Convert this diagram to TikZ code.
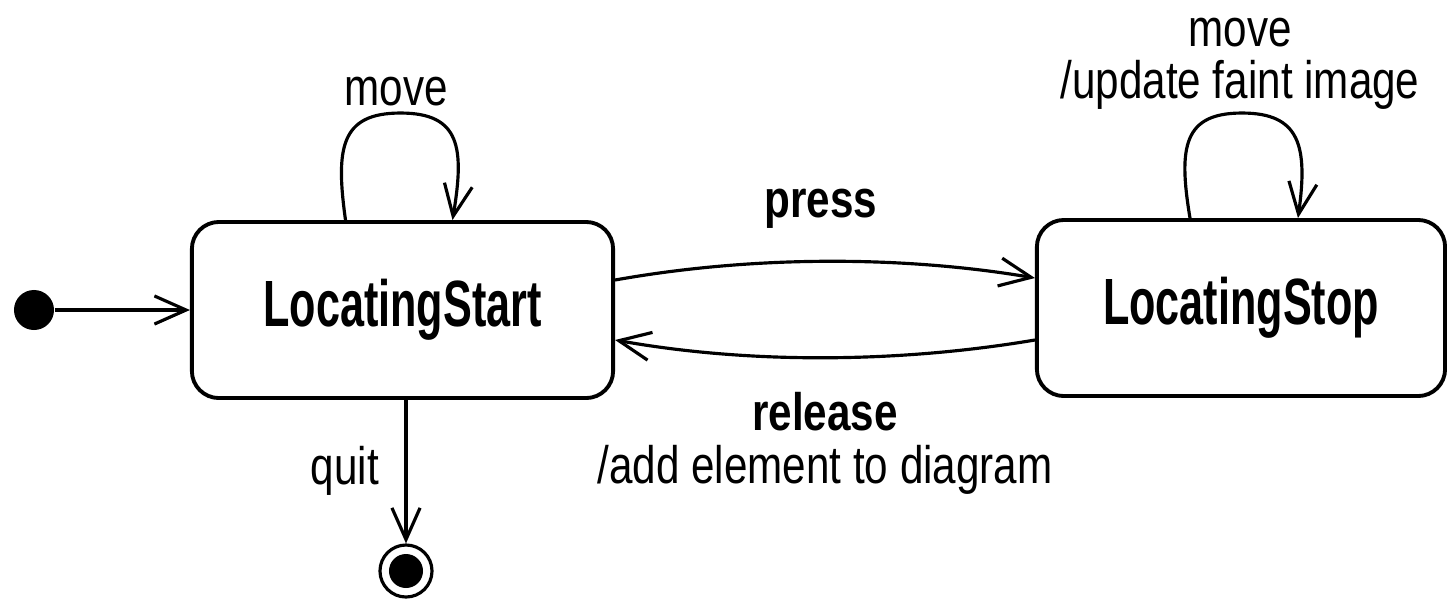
\documentclass[tikz,border=0pt]{standalone}
\usepackage{fontspec}
\setmainfont{Liberation Sans}
\newfontfamily\lblfont[FakeStretch=0.8]{Liberation Sans}
\newfontfamily\stfont[FakeStretch=0.66]{Liberation Sans}
\usetikzlibrary{arrows.meta,calc}
\begin{document}
\begin{tikzpicture}[x=0.01cm,y=-0.01cm,
  state/.style={draw,line width=1.1pt,rounded corners=0.27cm,inner sep=0pt,
    font=\stfont\bfseries\fontsize{18.6}{22}\selectfont},
  lbl/.style={inner sep=0pt,font=\lblfont\fontsize{15}{15}\selectfont,align=center},
  lblb/.style={lbl,font=\lblfont\bfseries\fontsize{15}{15}\selectfont},
  tr/.style={line width=0.9pt,-{Straight Barb[length=9pt,width=8pt]}}]
\useasboundingbox (0,0) rectangle (1447,602);
% states
\node[state,minimum width=4.21cm,minimum height=1.76cm] (ls) at (402.5,310) {LocatingStart};
\node[state,minimum width=4.08cm,minimum height=1.76cm] (lp) at (1241,308) {LocatingStop};
\node[circle,fill,inner sep=0pt,minimum size=0.4cm] (init) at (34,310) {};
\node[circle,draw,line width=0.9pt,inner sep=0pt,minimum size=0.52cm,
  path picture={\fill (path picture bounding box.center) circle (0.17cm);}] (final) at (406,571) {};
% transitions
\draw[tr] (init) -- (ls.west);
\draw[tr] ($(ls.east)+(0,-30)$) .. controls +(140,-25) and +(-130,-22) .. ($(lp.west)+(0,-30)$);
\draw[tr] ($(lp.west)+(0,32)$) .. controls +(-130,22) and +(140,25) .. ($(ls.east)+(0,30)$);
\draw[tr] (ls.south -| final) -- (final);
\draw[tr] ($(ls.north)+(-57,0)$) .. controls +(-10,-72) and +(-60,0) .. ($(ls.north)+(-2,-107)$)
  .. controls +(60,0) and +(12,-72) .. ($(ls.north)+(50,0)$);
\draw[tr] ($(lp.north)+(-51,0)$) .. controls +(-12,-72) and +(-58,0) .. ($(lp.north)+(1,-105)$)
  .. controls +(58,0) and +(10,-72) .. ($(lp.north)+(57,0)$);
% labels
\node[lbl,anchor=base] (lmove1) at (396,105) {move};
\node[lbl,anchor=north] (lmove2) at (1240,17) {move\\/update faint image};
\node[lblb,anchor=base] (lpress) at (821,217) {press};
\node[lbl,anchor=north] (lrel) at (825,392) {{\bfseries release}\\/add element to diagram};
\node[lbl,anchor=base] (lquit) at (345,484) {quit};
\end{tikzpicture}
\end{document}
